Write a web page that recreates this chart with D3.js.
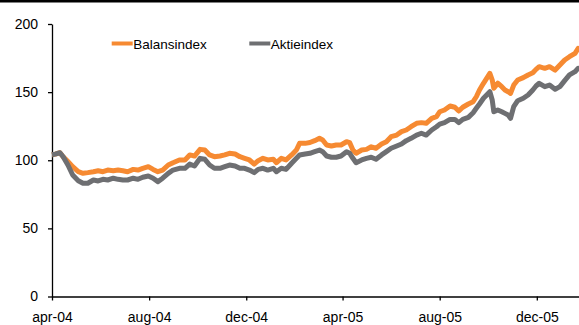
<!DOCTYPE html>
<html>
<head>
<meta charset="utf-8">
<script src="https://cdn.jsdelivr.net/npm/d3@7"></script>
<style>
  html, body { margin: 0; padding: 0; background: #fff; }
  svg { display: block; font-family: Arial, "Liberation Sans", sans-serif; }
</style>
</head>
<body>
<svg id="chart" width="579" height="325"></svg>
<script>
// Observation dates (roughly weekly)
const dates = [
  "2004-04-01","2004-04-05","2004-04-11","2004-04-15","2004-04-21","2004-04-27",
  "2004-05-04","2004-05-10","2004-05-16","2004-05-23","2004-05-29",
  "2004-06-04","2004-06-10","2004-06-17","2004-06-23","2004-06-29",
  "2004-07-05","2004-07-12","2004-07-18","2004-07-24","2004-07-31",
  "2004-08-06","2004-08-12","2004-08-18","2004-08-25","2004-08-31",
  "2004-09-08","2004-09-15","2004-09-21","2004-09-27",
  "2004-10-04","2004-10-10","2004-10-16","2004-10-22","2004-10-29",
  "2004-11-04","2004-11-10","2004-11-17","2004-11-23","2004-11-29",
  "2004-12-05","2004-12-11","2004-12-16","2004-12-22","2004-12-28",
  "2005-01-04","2005-01-08","2005-01-14","2005-01-20","2005-01-27",
  "2005-02-02","2005-02-06","2005-02-13","2005-02-19","2005-02-25",
  "2005-03-03","2005-03-07","2005-03-12","2005-03-18","2005-03-24","2005-03-30",
  "2005-04-06","2005-04-10","2005-04-14","2005-04-18","2005-04-25",
  "2005-05-01","2005-05-07","2005-05-13","2005-05-20","2005-05-26",
  "2005-06-01","2005-06-08","2005-06-14","2005-06-20","2005-06-26",
  "2005-07-03","2005-07-09","2005-07-15","2005-07-22","2005-07-28",
  "2005-08-01","2005-08-07","2005-08-14","2005-08-20","2005-08-25","2005-08-30",
  "2005-09-06","2005-09-12","2005-09-16","2005-09-20","2005-09-25","2005-09-29",
  "2005-10-03","2005-10-06","2005-10-08","2005-10-13","2005-10-18","2005-10-22","2005-10-26","2005-10-29",
  "2005-11-02","2005-11-07","2005-11-14","2005-11-20","2005-11-26","2005-11-30",
  "2005-12-04","2005-12-11","2005-12-17","2005-12-24","2005-12-30",
  "2006-01-05","2006-01-11","2006-01-18","2006-01-22","2006-01-27"
];

const balansindex = [
  104,104.5,105.5,102.6,99,95.3,
  91.6,90.4,90.9,91.6,92.3,
  91.6,92.8,92.3,92.8,92.3,
  91.6,93.3,92.8,94.1,95.3,
  93.3,91.6,92.8,96.5,98.2,
  100.2,100.2,103.9,103.1,
  108,107.5,103.9,102.6,103.1,
  103.9,105.1,104.6,102.6,101.4,
  100.2,97.2,99.7,101.4,100.2,
  100.7,98.2,101.4,100.2,103.9,
  107.5,112.4,112.4,113,114.4,
  116.1,114.9,111.2,110.5,111.2,111.2,
  113.6,112.9,107.5,105.1,107.5,
  108,109.9,108.8,111.9,113.6,
  117.3,118.5,121,122.2,124.6,
  127.1,127.6,127.1,130.8,132,
  135.6,136.9,139.8,138.9,136.1,138.9,
  141.3,143,146.6,151.6,156.5,160.1,
  163.8,158.9,152.8,156.5,154,151.6,150.3,149.1,
  155.2,158.9,160.6,162.6,164.2,166.7,
  168.7,167.5,168.7,166.2,169.9,
  173.6,176,178.5,182.2,181
];

const aktieindex = [
  104,104.5,105.5,102.6,96.5,89.2,
  85,83.1,83.1,85.5,84.8,
  86,85.5,86.8,86,85.5,
  85.5,86.8,86,87.5,88.4,
  86.8,84.3,86.8,90.4,92.8,
  94.1,94.1,97.2,95.8,
  101.4,100.7,96.5,94.1,94.1,
  95.3,96.5,95.8,94.1,94.1,
  92.8,90.9,93.3,94.1,92.8,
  94.1,91.6,94.1,93.3,97.8,
  101.4,103.9,104.6,105.1,106.3,
  107.5,106.3,103.1,102.2,102.2,103.1,
  106.3,105.1,101.4,98.2,100.2,
  101.4,102.2,100.7,103.9,106.3,
  108.8,110.5,111.9,114.4,116.1,
  118.5,119.8,118.5,122.2,124.6,
  126.5,127.6,130,130,127.6,130,
  131.5,134.9,138.1,141.3,145.5,147.9,
  150.3,144.2,135.6,136.9,135.6,134.4,133.2,130.8,
  139.3,143.7,145.5,147.9,151.6,154.5,
  156.5,154,155.2,152.1,154,
  158.4,162.6,165,167.5,167
];

const seriesNames = ["Balansindex", "Aktieindex"];
const seriesColors = ["#f68a32", "#6e6f72"];

const tickDates = ["2004-04-01","2004-08-01","2004-12-01","2005-04-01","2005-08-01","2005-12-01"];
const tickLabels = ["apr-04","aug-04","dec-04","apr-05","aug-05","dec-05"];
const yTicks = [0, 50, 100, 150, 200];

const parse = d3.timeParse("%Y-%m-%d");
const svg = d3.select("#chart");

const x = d3.scaleTime()
  .domain([parse("2004-04-01"), parse("2006-01-23")])
  .range([52, 579]);
const y = d3.scaleLinear().domain([0, 200]).range([296.5, 24]);

// top rule
svg.append("line")
  .attr("x1", 0).attr("x2", 579).attr("y1", 1.2).attr("y2", 1.2)
  .attr("stroke", "#000").attr("stroke-width", 2.6);

// axes
const yAxis = d3.axisLeft(y).tickValues(yTicks).tickSize(4).tickSizeOuter(0).tickPadding(10);
const gy = svg.append("g").attr("transform", "translate(52,0)").call(yAxis);

const labelByTime = new Map(tickDates.map((d, i) => [+parse(d), tickLabels[i]]));
const xAxis = d3.axisBottom(x)
  .tickValues(tickDates.map(parse))
  .tickFormat(d => labelByTime.get(+d))
  .tickSize(4).tickSizeOuter(0).tickPadding(12);
const gx = svg.append("g").attr("transform", "translate(0,296.5)").call(xAxis);

[gx, gy].forEach(g => {
  g.selectAll("path, line").attr("stroke", "#000").attr("stroke-width", 1.3);
  g.selectAll("text").attr("fill", "#000").style("font-size", "14px")
    .style("font-family", "Arial, 'Liberation Sans', sans-serif");
});

// series lines
const series = [balansindex, aktieindex].map((vals, i) => ({
  name: seriesNames[i],
  color: seriesColors[i],
  points: dates.map((d, j) => ({ date: parse(d), value: vals[j] }))
}));

const line = d3.line().x(d => x(d.date)).y(d => y(d.value));

svg.append("g").selectAll("path")
  .data(series)
  .join("path")
  .attr("d", s => line(s.points))
  .attr("fill", "none")
  .attr("stroke", s => s.color)
  .attr("stroke-width", 5)
  .attr("stroke-linejoin", "round");

// legend
const legendX = [111.7, 249.3];
const legend = svg.append("g").selectAll("g")
  .data(series)
  .join("g")
  .attr("transform", (s, i) => `translate(${legendX[i]},43.5)`);
legend.append("line")
  .attr("x1", 0).attr("x2", 21).attr("y1", 0).attr("y2", 0)
  .attr("stroke", s => s.color).attr("stroke-width", 4);
legend.append("text")
  .attr("x", 21.5).attr("y", 5)
  .style("font-size", "13.5px")
  .attr("fill", "#000")
  .text(s => s.name);
</script>
</body>
</html>
